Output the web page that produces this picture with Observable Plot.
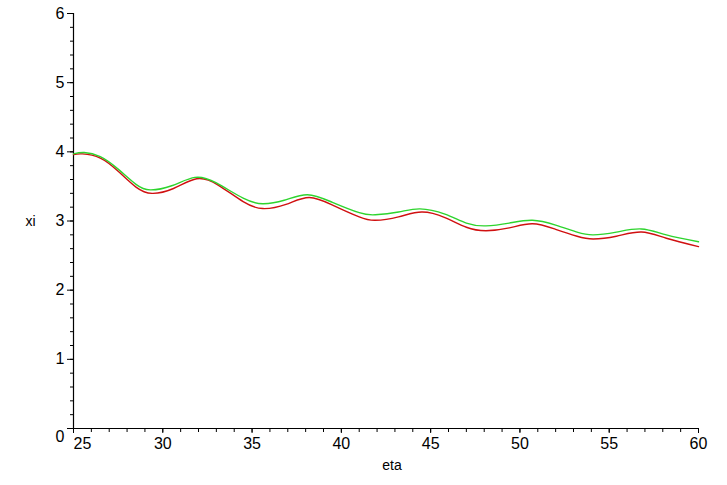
<!DOCTYPE html>
<html>
<head>
<meta charset="utf-8">
<script src="https://cdn.jsdelivr.net/npm/d3@7"></script>
<script src="https://cdn.jsdelivr.net/npm/@observablehq/plot@0.6"></script>
<style>
  html, body { margin: 0; padding: 0; background: #fff; }
</style>
</head>
<body>
<div id="chart"></div>
<script>
// Values
const etaRed   = [25, 25.5, 26.5, 27.5, 28.5, 29.4, 30.6, 31.9, 33.1, 34.5, 35.6, 36.9, 38.2, 39.6, 41, 41.9, 43.2, 44.5, 45.8, 47, 48.1, 49.4, 50.7, 52, 53.2, 54.1, 55.4, 56.8, 58.2, 60];
const xiRed    = [3.96, 3.97, 3.91, 3.72, 3.49, 3.40, 3.47, 3.61, 3.52, 3.28, 3.18, 3.24, 3.34, 3.22, 3.06, 3.01, 3.06, 3.13, 3.05, 2.91, 2.86, 2.90, 2.96, 2.88, 2.78, 2.74, 2.78, 2.84, 2.75, 2.63];
const etaGreen = [25, 25.6, 26.5, 27.5, 28.5, 29.3, 30.5, 31.8, 33, 34.5, 35.6, 36.8, 38.1, 39.5, 41, 41.9, 43.2, 44.4, 45.8, 47, 48.1, 49.4, 50.7, 52, 53.2, 54.1, 55.4, 56.8, 58.2, 60];
const xiGreen  = [3.97, 3.99, 3.93, 3.75, 3.53, 3.45, 3.51, 3.63, 3.55, 3.33, 3.25, 3.30, 3.38, 3.27, 3.12, 3.09, 3.13, 3.175, 3.10, 2.97, 2.93, 2.97, 3.01, 2.94, 2.84, 2.80, 2.84, 2.885, 2.80, 2.70];

const xTicks = [25, 30, 35, 40, 45, 50, 55, 60];
const yTicks = [0, 1, 2, 3, 4, 5, 6];
const xMinor = d3.range(25, 60.001, 1);
const yMinor = d3.range(0, 6.001, 0.2);

const redData = etaRed.map((e, i) => ({eta: e, xi: xiRed[i]}));
const greenData = etaGreen.map((e, i) => ({eta: e, xi: xiGreen[i]}));

const chart = Plot.plot({
  width: 727,
  height: 485,
  marginLeft: 73,
  marginRight: 29,
  marginTop: 13,
  marginBottom: 57,
  x: {domain: [25, 60], axis: null},
  y: {domain: [0, 6], axis: null},
  style: {fontFamily: "'Liberation Sans', Arial, sans-serif", background: "#fff", color: "#000"},
  marks: [
    Plot.axisY({ticks: yMinor, tickSize: 3, tickFormat: () => "", label: null, stroke: "#000"}),
    Plot.axisY({ticks: yTicks, tickSize: 6, tickFormat: () => "", label: null, stroke: "#000"}),
    Plot.axisX({ticks: xMinor, tickSize: 4, tickFormat: () => "", label: null, stroke: "#000"}),
    Plot.axisX({ticks: xTicks, tickSize: 5, tickFormat: () => "", label: null, stroke: "#000"}),
    Plot.ruleX([25], {stroke: "#000", strokeWidth: 1.2}),
    Plot.ruleY([0], {stroke: "#000", strokeWidth: 1.2}),
    Plot.text(yTicks.filter(d => d > 0), {x: 25, y: d => d, text: d => String(d), textAnchor: "end", dx: -9, fontSize: 16, fill: "#000"}),
    Plot.text([0], {x: 25, y: d => d, text: d => String(d), textAnchor: "end", dx: -9, dy: 8, fontSize: 16, fill: "#000"}),
    Plot.text(xTicks.filter(d => d > 25), {x: d => d, y: 0, text: d => String(d), dy: 15, fontSize: 16, fill: "#000"}),
    Plot.text([25], {x: d => d, y: 0, text: d => String(d), dy: 15, dx: 9, fontSize: 16, fill: "#000"}),
    Plot.text(["xi"], {frameAnchor: "left", text: d => d, dx: -48, dy: 1, fontSize: 14, fill: "#000"}),
    Plot.text(["eta"], {frameAnchor: "bottom", text: d => d, dy: 41, dx: 6, fontSize: 14, fill: "#000"}),
    Plot.line(redData, {x: "eta", y: "xi", stroke: "#d01010", strokeWidth: 1.4, curve: "natural"}),
    Plot.line(greenData, {x: "eta", y: "xi", stroke: "#2ed42e", strokeWidth: 1.4, curve: "natural"})
  ]
});
document.getElementById("chart").appendChild(chart);
</script>
</body>
</html>
